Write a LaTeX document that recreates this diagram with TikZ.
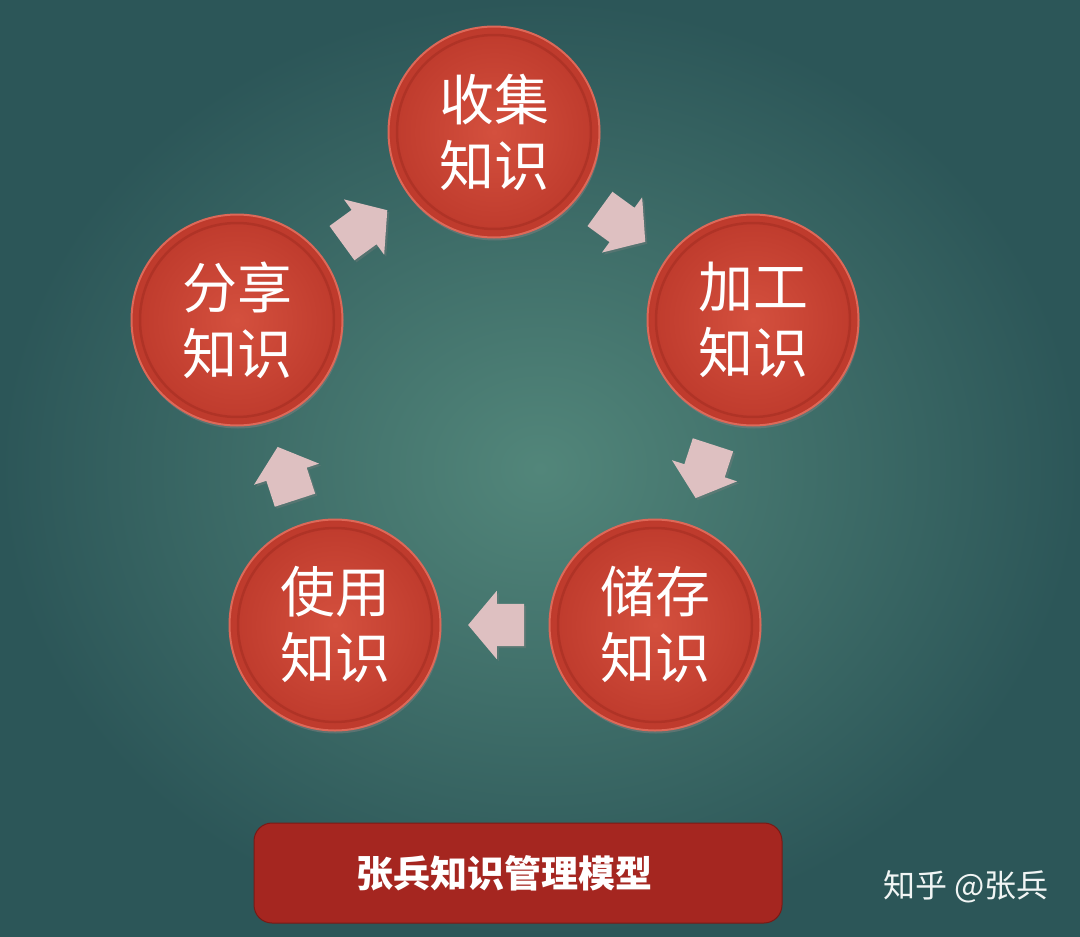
\documentclass[tikz,border=0pt]{standalone}
\usepackage{fontspec}
\newfontfamily\cjk{Noto Sans CJK SC}
\usetikzlibrary{calc,shapes.arrows,shadows}

\definecolor{bgin}{RGB}{82,134,122}
\definecolor{bgout}{RGB}{44,86,88}
\definecolor{stagein}{RGB}{212,80,62}
\definecolor{stageout}{RGB}{190,58,44}
\definecolor{stagerim}{RGB}{222,104,88}
\definecolor{stagebevel}{RGB}{165,45,34}
\definecolor{arrowpink}{RGB}{222,192,193}
\definecolor{boxred}{RGB}{165,38,32}
\definecolor{boxedge}{RGB}{120,26,22}

\begin{document}
\begin{tikzpicture}[
  x=1pt, y=-1pt,
  stage/.style={circle, minimum size=211pt, inner sep=0pt,
    shade, inner color=stagein, outer color=stageout,
    draw=stagerim, line width=2pt,
    drop shadow={shadow xshift=1pt, shadow yshift=-3pt, opacity=0.5},
    path picture={\draw [stagebevel, line width=2.5pt, opacity=0.6]
      (path picture bounding box.center) circle [radius=97pt];},
    align=center, text=white, font=\cjk\fontsize{55}{66}\selectfont},
  flow/.style={single arrow, fill=arrowpink, inner xsep=0pt, inner ysep=21pt,
    minimum height=56pt,
    single arrow head extend=13pt, single arrow tip angle=100,
    drop shadow={shadow xshift=2pt, shadow yshift=-2pt, opacity=0.35}},
  titlebox/.style={rectangle, rounded corners=18pt, fill=boxred,
    draw=boxedge, line width=1pt, minimum width=528pt, minimum height=100pt}
]
\shade [inner color=bgin, outer color=bgout] (0,0) rectangle (1080,937);
\useasboundingbox (0,0) rectangle (1080,937);

\node [stage] (collect) at (494,132) {收集\\知识};
\node [stage] (process) at (753,320) {加工\\知识};
\node [stage] (store) at (655,625) {储存\\知识};
\node [stage] (use) at (335,625) {使用\\知识};
\node [stage] (share) at (237,320) {分享\\知识};

\node [flow, rotate=36] (f1) at ($(share)!0.5!(collect)!-10pt!(collect)$) {};
\node [flow, rotate=-36] (f2) at ($(collect)!0.5!(process)!-10pt!(process)$) {};
\node [flow, rotate=-108] (f3) at ($(process)!0.5!(store)!-10pt!(store)$) {};
\node [flow, rotate=180] (f4) at ($(store)!0.5!(use)!-10pt!(use)$) {};
\node [flow, rotate=108] (f5) at ($(use)!0.5!(share)!-10pt!(share)$) {};

\node [titlebox] (model) at (518,873) {};
\node [text=white, font=\cjk\bfseries\fontsize{37}{44}\selectfont] (modeltext) at (504,873) {张兵知识管理模型};

\node [text=white!92!bgin, font=\cjk\fontsize{32}{38}\selectfont] (mark) at (966,887) {知乎 @张兵};
\end{tikzpicture}
\end{document}
